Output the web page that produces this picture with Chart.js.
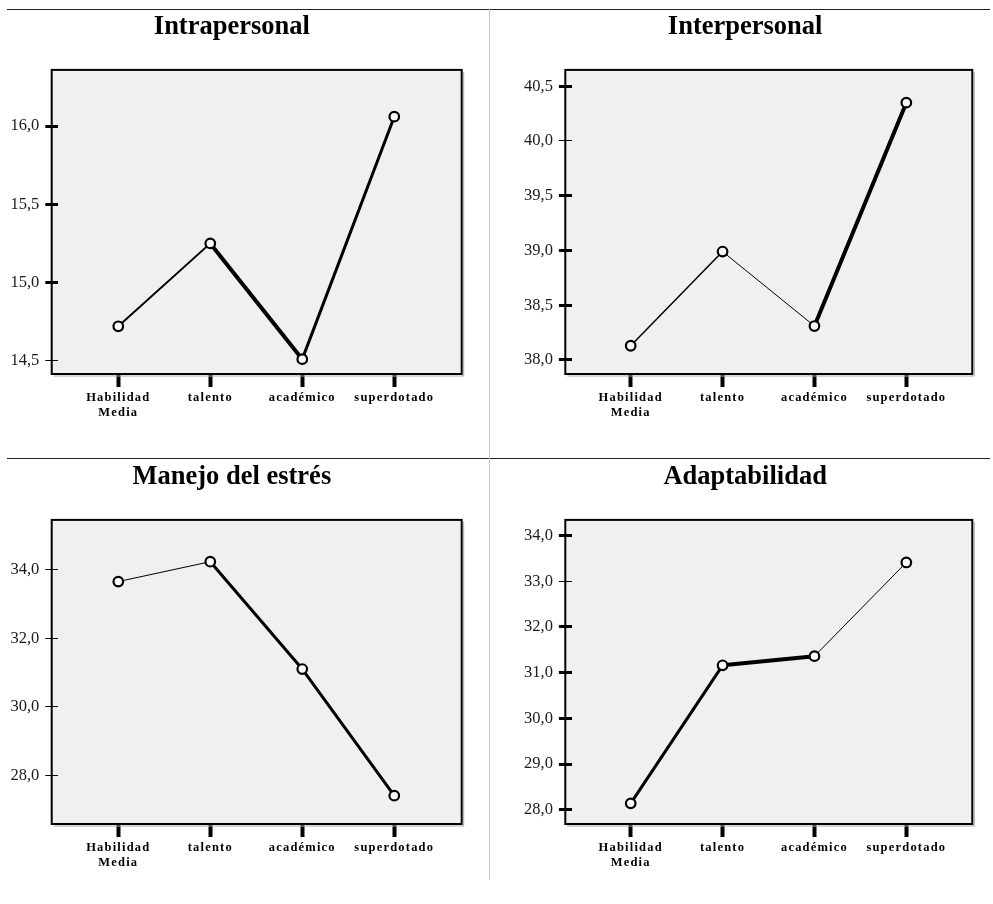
<!DOCTYPE html>
<html lang="es">
<head>
<meta charset="utf-8">
<title>Medias por grupo</title>
<script src="https://cdn.jsdelivr.net/npm/chart.js@4.4.1/dist/chart.umd.min.js"></script>
<style>
    body { margin: 0; background: #fff; }
    .page { position: relative; width: 993px; height: 904px; }
    .hline { position: absolute; left: 7px; width: 983px; height: 1px; background: #222; }
    .vline { position: absolute; left: 489px; top: 9px; width: 1px; height: 871px; background: #c8c8c8; }
    canvas { position: absolute; }
</style>
</head>
<body>
<div class="page">
    <div class="hline" style="top: 9px"></div>
    <div class="hline" style="top: 458px"></div>
    <div class="vline"></div>
    <canvas id="intra" width="486" height="440" style="left: 2px; top: 10px; width: 486px; height: 440px"></canvas>
    <canvas id="inter" width="475" height="440" style="left: 518px; top: 10px; width: 475px; height: 440px"></canvas>
    <canvas id="estres" width="486" height="440" style="left: 2px; top: 460px; width: 486px; height: 440px"></canvas>
    <canvas id="adapt" width="475" height="440" style="left: 518px; top: 460px; width: 475px; height: 440px"></canvas>
</div>
<script>
// Grupos (eje X)
const categories = [['Habilidad', 'Media'], 'talento', 'académico', 'superdotado'];

// Medias
const intraValues = [14.72, 15.25, 14.51, 16.06];
const interValues = [38.13, 38.99, 38.31, 40.35];
const estresValues = [33.65, 34.23, 31.10, 27.41];
const adaptValues = [28.14, 31.16, 31.36, 33.41];

// Marcas del eje Y
const intraTicks = [14.5, 15.0, 15.5, 16.0];
const interTicks = [38.0, 38.5, 39.0, 39.5, 40.0, 40.5];
const estresTicks = [28.0, 30.0, 32.0, 34.0];
const adaptTicks = [28.0, 29.0, 30.0, 31.0, 32.0, 33.0, 34.0];

const SERIF = '"Liberation Serif", "Times New Roman", serif';
const INNER_TICK = 6.6; // parte de la marca Y que entra en el área

// fondo gris y marco del área de trazado
const framePlugin = {
    id: 'frame',
    beforeDraw(chart) {
        const a = chart.chartArea;
        const ctx = chart.ctx;
        ctx.save();
        ctx.fillStyle = '#f0f0f0';
        ctx.fillRect(a.left - INNER_TICK, a.top, a.right - a.left + INNER_TICK, a.bottom - a.top);
        ctx.restore();
    },
    beforeDatasetsDraw(chart) {
        const a = chart.chartArea;
        const ctx = chart.ctx;
        const left = a.left - INNER_TICK;
        ctx.save();
        ctx.strokeStyle = '#a8a8a8';
        ctx.lineWidth = 1;
        ctx.beginPath();
        ctx.moveTo(a.right + 2, a.top + 2);
        ctx.lineTo(a.right + 2, a.bottom + 2);
        ctx.lineTo(left + 2, a.bottom + 2);
        ctx.stroke();
        ctx.strokeStyle = '#000';
        ctx.lineWidth = 2;
        ctx.strokeRect(left, a.top, a.right - left, a.bottom - a.top);
        ctx.restore();
    }
};

// etiquetas del eje X con letras espaciadas, como en el original
const spacedLabels = {
    id: 'spacedLabels',
    beforeDraw(chart) {
        const xs = chart.scales.x;
        if (xs._spaced) return;
        const orig = xs.drawLabels.bind(xs);
        xs.drawLabels = function (area) {
            const ctx = chart.ctx;
            ctx.save();
            ctx.letterSpacing = '1.2px';
            orig(area);
            ctx.restore();
        };
        xs._spaced = true;
    }
};

function makePanel(id, title, values, ticks, opts) {
    const points = values.map((v, i) => ({ x: i, y: v }));
    return new Chart(document.getElementById(id), {
        type: 'line',
        data: {
            datasets: [{
                data: points,
                borderColor: '#000',
                borderWidth: 2,
                borderCapStyle: 'round',
                borderJoinStyle: 'round',
                segment: {
                    borderWidth: ctx => opts.segWidths[ctx.p0DataIndex]
                },
                pointRadius: 4.8,
                pointBorderWidth: 2.2,
                pointBorderColor: '#000',
                pointBackgroundColor: '#fafafa',
                tension: 0
            }]
        },
        options: {
            responsive: false,
            animation: false,
            layout: { padding: { left: 0, right: opts.padRight, top: 0, bottom: 0 } },
            plugins: {
                legend: { display: false },
                tooltip: { enabled: false },
                title: {
                    display: true,
                    text: title,
                    color: '#000',
                    font: { family: SERIF, size: 26.5, weight: 'bold' },
                    padding: { top: 1.5, bottom: 26.6 }
                }
            },
            scales: {
                x: {
                    type: 'linear',
                    min: opts.xMin,
                    max: opts.xMax,
                    afterBuildTicks: scale => { scale.ticks = categories.map((c, i) => ({ value: i })); },
                    afterFit: scale => { scale.height = 76; },
                    border: { display: false },
                    grid: {
                        drawOnChartArea: false,
                        tickLength: 13,
                        tickWidth: 4,
                        tickColor: '#000'
                    },
                    ticks: {
                        autoSkip: false,
                        maxRotation: 0,
                        padding: 3.5,
                        color: '#000',
                        font: { family: SERIF, size: 12.5, weight: 'bold', lineHeight: 1.2 },
                        callback: v => categories[v]
                    }
                },
                y: {
                    min: opts.yMin,
                    max: opts.yMax,
                    afterBuildTicks: scale => { scale.ticks = ticks.map(v => ({ value: v })); },
                    afterFit: scale => { scale.width = opts.yWidth; },
                    border: { display: false },
                    grid: {
                        drawOnChartArea: false,
                        tickLength: 13,
                        tickColor: '#000',
                        tickWidth: ctx => (opts.thinTicks.includes(ctx.tick.value) ? 1 : 3)
                    },
                    ticks: {
                        padding: 6,
                        color: '#1a1a1a',
                        font: { family: SERIF, size: 16.5 },
                        callback: v => v.toFixed(1).replace('.', ',')
                    }
                }
            }
        },
        plugins: [framePlugin, spacedLabels]
    });
}

const leftPanel = { yWidth: 56.3, padRight: 26.3, xMin: -0.652, xMax: 3.733 };
const rightPanel = { yWidth: 53.9, padRight: 20.7, xMin: -0.640, xMax: 3.718 };

makePanel('intra', 'Intrapersonal', intraValues, intraTicks,
    Object.assign({ yMin: 14.415, yMax: 16.359, thinTicks: [14.5], segWidths: [2, 4, 3] }, leftPanel));
makePanel('inter', 'Interpersonal', interValues, interTicks,
    Object.assign({ yMin: 37.872, yMax: 40.649, thinTicks: [40.0], segWidths: [1.5, 1, 4] }, rightPanel));
makePanel('estres', 'Manejo del estrés', estresValues, estresTicks,
    Object.assign({ yMin: 26.584, yMax: 35.448, thinTicks: estresTicks, segWidths: [1, 3, 3] }, leftPanel));
makePanel('adapt', 'Adaptabilidad', adaptValues, adaptTicks,
    Object.assign({ yMin: 27.688, yMax: 34.341, thinTicks: [33.0], segWidths: [3, 4, 1] }, rightPanel));
</script>
</body>
</html>
